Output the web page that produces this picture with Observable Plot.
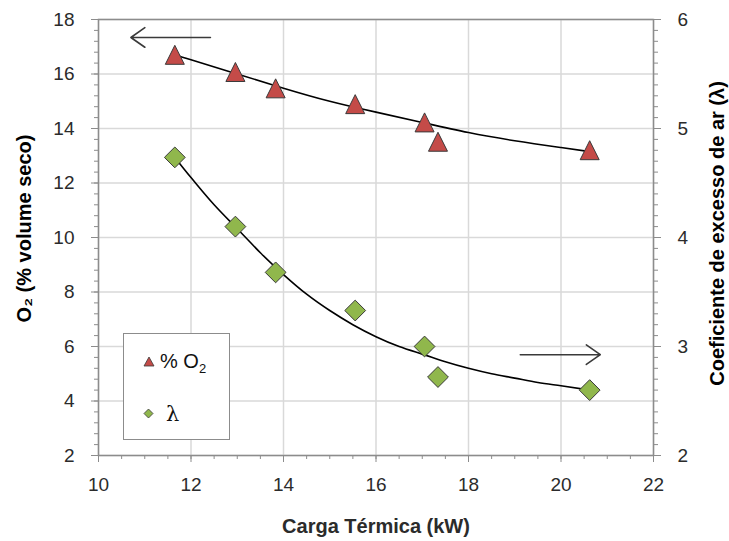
<!DOCTYPE html>
<html><head><meta charset="utf-8">
<script src="https://cdn.jsdelivr.net/npm/d3@7"></script>
<script src="https://cdn.jsdelivr.net/npm/@observablehq/plot@0.6"></script>
<style>
body{margin:0;background:#fff;font-family:"Liberation Sans",Arial,sans-serif;}
#wrap{position:relative;width:729px;height:541px;}
#legend{position:absolute;left:123px;top:333px;width:107px;height:107px;border:1.5px solid #8c8c8c;background:#fff;box-sizing:border-box;color:#111;}
#legend .item{position:absolute;line-height:1;white-space:nowrap;}
</style></head><body><div id="wrap"><div id="legend"></div></div>
<script>
// Data
const carga = [11.65, 12.96, 13.83, 15.55, 17.05, 17.34, 20.62];          // Carga Térmica (kW)
const o2 = [16.69, 16.06, 15.46, 14.88, 14.21, 13.5, 13.19];             // O2 (% volume seco)
const lambda = [4.735, 4.10, 3.68, 3.33, 3.0, 2.72, 2.60];               // λ
// Trend lines
const trendO2X = [11.65, 12, 13, 14, 15, 16, 17, 18, 19, 20, 20.62];
const trendO2 = [16.72, 16.52, 16.0, 15.48, 15.0, 14.6, 14.22, 13.85, 13.55, 13.3, 13.15];
const trendLX = [11.65, 12, 12.5, 13, 13.5, 14, 14.5, 15, 15.5, 16, 16.5, 17, 17.5, 18, 18.5, 19, 19.5, 20, 20.63];
const trendL = [4.735, 4.55, 4.30, 4.08, 3.86, 3.66, 3.48, 3.33, 3.20, 3.09, 3.00, 2.93, 2.86, 2.80, 2.75, 2.71, 2.67, 2.64, 2.60];
// Axis ticks
const xTicks = [10, 12, 14, 16, 18, 20, 22];
const yTicks = [2, 4, 6, 8, 10, 12, 14, 16, 18];
const y2Ticks = [2, 3, 4, 5, 6];
// Arrow annotations (data space)
const arrowO2 = {x1: 12.42, x2: 10.7, y: 17.34};
const arrowL = {x1: 19.12, x2: 20.85, y: 5.7};

const lamToY = l => 2 + (l - 2) * 4;   // right axis (2–6) mapped onto left axis (2–18)
const yToLam = y => 2 + (y - 2) / 4;

const pts = carga.map((x, i) => ({x, o2: o2[i], lam: lamToY(lambda[i])}));
const tO2 = trendO2X.map((x, i) => ({x, y: trendO2[i]}));
const tL = trendLX.map((x, i) => ({x, y: lamToY(trendL[i])}));

const xMinor = d3.range(0, 25).map(i => 10 + i * 0.5);
const yMinor = d3.range(0, 41).map(i => 2 + i * 0.4);
const axisStroke = "#8c8c8c";
const textFill = "#2b2b2b";

// Excel-like marker shapes
const triSym = {draw(ctx, size) { const k = Math.sqrt(size / Math.PI); ctx.moveTo(0, -1.3 * k); ctx.lineTo(1.25 * k, 1.2 * k); ctx.lineTo(-1.25 * k, 1.2 * k); ctx.closePath(); }};
const diaSym = {draw(ctx, size) { const k = Math.sqrt(size / Math.PI); ctx.moveTo(0, -1.3 * k); ctx.lineTo(1.3 * k, 0); ctx.lineTo(0, 1.3 * k); ctx.lineTo(-1.3 * k, 0); ctx.closePath(); }};

const chart = Plot.plot({
  width: 729, height: 541,
  marginLeft: 98, marginRight: 76, marginTop: 19, marginBottom: 86,
  style: {fontFamily: "'Liberation Sans', Arial, sans-serif", background: "transparent"},
  x: {domain: [10, 22]},
  y: {domain: [2, 18]},
  marks: [
    Plot.gridX(xTicks, {stroke: "#d9d9d9", strokeOpacity: 1, strokeWidth: 1.5}),
    Plot.gridY(yTicks, {stroke: "#d9d9d9", strokeOpacity: 1, strokeWidth: 1.5}),
    Plot.frame({stroke: axisStroke, strokeWidth: 1.5}),
    Plot.axisX({ticks: xMinor, tickSize: 4, tickFormat: () => "", stroke: axisStroke, label: null}),
    Plot.axisX({ticks: xTicks, tickSize: 7, tickPadding: 15, fontSize: 19, stroke: axisStroke, fill: textFill, label: null}),
    Plot.axisY({anchor: "left", ticks: yMinor, tickSize: 4, tickFormat: () => "", stroke: axisStroke, label: null}),
    Plot.axisY({anchor: "left", ticks: yTicks, tickSize: 7, tickPadding: 17, fontSize: 19, stroke: axisStroke, fill: textFill, label: null}),
    Plot.axisY({anchor: "right", ticks: yMinor, tickSize: 4, tickFormat: () => "", stroke: axisStroke, label: null}),
    Plot.axisY({anchor: "right", ticks: y2Ticks.map(lamToY), tickSize: 7, tickPadding: 17, fontSize: 19, stroke: axisStroke, fill: textFill, tickFormat: d => String(yToLam(d)), label: null}),
    Plot.line(tO2, {x: "x", y: "y", curve: "natural", stroke: "#000", strokeWidth: 1.6}),
    Plot.line(tL, {x: "x", y: "y", curve: "natural", stroke: "#000", strokeWidth: 1.6}),
    Plot.dot(pts, {x: "x", y: "o2", symbol: triSym, r: 7.6, fill: "#c44b48", stroke: "#3a3a3a", strokeWidth: 1}),
    Plot.dot(pts, {x: "x", y: "lam", symbol: diaSym, r: 8, fill: "#90b74c", stroke: "#3a3a3a", strokeWidth: 1}),
    Plot.arrow([arrowO2], {x1: "x1", x2: "x2", y1: "y", y2: "y", stroke: "#3a3a3a", strokeWidth: 1.6, headLength: 16, headAngle: 70}),
    Plot.arrow([arrowL], {x1: "x1", x2: "x2", y1: "y", y2: "y", stroke: "#3a3a3a", strokeWidth: 1.6, headLength: 16, headAngle: 70}),
    Plot.text(["Carga Térmica (kW)"], {frameAnchor: "bottom", lineAnchor: "middle", dy: 71, fontSize: 20, fontWeight: "bold", letterSpacing: 0.5, fill: textFill}),
    Plot.text(["O₂ (% volume seco)"], {frameAnchor: "left", textAnchor: "middle", lineAnchor: "middle", dx: -74, dy: -9, rotate: -90, fontSize: 20, fontWeight: "bold", letterSpacing: 0.8, fill: "#000"}),
    Plot.text(["Coeficiente de excesso de ar (λ)"], {frameAnchor: "right", textAnchor: "middle", lineAnchor: "middle", dx: 64, dy: -4, rotate: -90, fontSize: 20, fontWeight: "bold", letterSpacing: 1, fill: "#000"})
  ]
});
chart.style.position = "absolute";
chart.style.left = "0px";
chart.style.top = "0px";
const wrap = document.getElementById("wrap");
wrap.insertBefore(chart, wrap.firstChild);

// Legend (HTML overlay)
const leg = document.getElementById("legend");
leg.innerHTML = `
  <svg class="item" style="left:19px;top:22px" width="12" height="11"><polygon points="6,1 11,10 1,10" fill="#c44b48" stroke="#3a3a3a" stroke-width="0.8"/></svg>
  <div class="item" style="left:36px;top:17px;font-size:20px">% O<span style="font-size:13px;position:relative;top:5px">2</span></div>
  <svg class="item" style="left:19px;top:74px" width="11" height="11"><polygon points="5.5,1 10,5.5 5.5,10 1,5.5" fill="#90b74c" stroke="#3a3a3a" stroke-width="0.8"/></svg>
  <div class="item" style="left:42px;top:70px;font-size:21px;font-family:'DejaVu Serif',serif">λ</div>`;
</script></body></html>
